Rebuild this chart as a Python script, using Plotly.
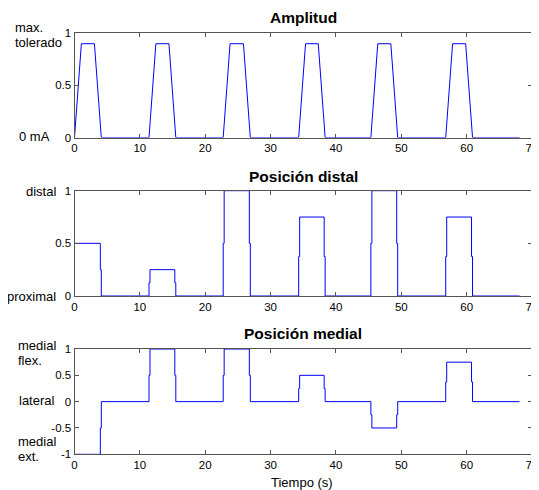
import plotly.graph_objects as go

# ---- data ----
pulse_start = [0.0, 11.4, 22.75, 34.3, 45.35, 56.8]
pulse_end = [4.1, 15.5, 26.9, 38.35, 49.45, 60.9]
amp_peak = 0.9
amp_ramp = 1.05
distal_levels = [0.5, 0.25, 1.0, 0.75, 1.0, 0.75]
medial_levels = [-1.0, 1.0, 1.0, 0.5, -0.5, 0.75]
t_end = 68.1

x_ticks = [0, 10, 20, 30, 40, 50, 60, 70]
amp_ticks = [0, 0.5, 1]
distal_ticks = [0, 0.5, 1]
medial_ticks = [-1, -0.5, 0, 0.5, 1]

titles = ["Amplitud", "Posición distal", "Posición medial"]
xlabel = "Tiempo (s)"

OFF = 8  # page body margin
W, H = 539 - OFF, 490 - OFF
FONT = "Liberation Sans, Arial, sans-serif"
BLUE = "#0000ff"
AX = "#555555"


def px(p):
    return (p - OFF) / W


def py(p):
    return 1 - (p - OFF) / H


# amplitude trace
amp_t, amp_v = [], []
for s, e in zip(pulse_start, pulse_end):
    amp_t += [s, s + amp_ramp, e - amp_ramp, e]
    amp_v += [0, amp_peak, amp_peak, 0]
amp_t.append(t_end)
amp_v.append(0)


def steps(levels, dt=0.15):
    t, v = [], []
    for s, e, lv in zip(pulse_start, pulse_end, levels):
        if s == 0:
            t.append(0.0)
            v.append(lv)
        else:
            t += [s, s + dt]
            v += [lv / 2, lv]
        t += [e - dt, e]
        v += [lv / 2, 0]
    t.append(t_end)
    v.append(0)
    return t, v


dis_t, dis_v = steps(distal_levels)
med_t, med_v = steps(medial_levels)

fig = go.Figure()
fig.add_trace(go.Scatter(x=amp_t, y=amp_v, mode="lines", line=dict(color=BLUE, width=1),
                         xaxis="x", yaxis="y", showlegend=False))
fig.add_trace(go.Scatter(x=dis_t, y=dis_v, mode="lines", line=dict(color=BLUE, width=1, shape="hv"),
                         xaxis="x2", yaxis="y2", showlegend=False))
fig.add_trace(go.Scatter(x=med_t, y=med_v, mode="lines", line=dict(color=BLUE, width=1, shape="hv"),
                         xaxis="x3", yaxis="y3", showlegend=False))

xdom = [px(74.5), px(532)]
ydoms = [[py(137.5), py(33.3)], [py(296), py(190.7)], [py(454.3), py(349)]]
yranges = [[0, 1], [0, 1], [-1, 1]]
yticks = [amp_ticks, distal_ticks, medial_ticks]

common = dict(showline=True, linecolor=AX, linewidth=1, mirror="ticks", ticks="inside",
              ticklen=4, tickcolor=AX, showgrid=False, zeroline=False, automargin=False,
              ticklabeloverflow="allow",
              tickfont=dict(family=FONT, size=11.5, color="black"))

layout = dict(width=W, height=H, margin=dict(l=0, r=0, t=0, b=0, pad=0, autoexpand=False),
              plot_bgcolor="white", paper_bgcolor="white", showlegend=False)
for i in range(3):
    sx = "" if i == 0 else str(i + 1)
    layout["xaxis" + sx] = dict(domain=xdom, range=[0, 70], tickvals=x_ticks,
                                anchor="y" + sx, **common)
    layout["yaxis" + sx] = dict(domain=ydoms[i], range=yranges[i], tickvals=yticks[i],
                                ticktext=[("%g" % v) for v in yticks[i]],
                                anchor="x" + sx, **common)
fig.update_layout(**layout)

ann = []
title_y = [17.5, 176, 333]
for t, yy in zip(titles, title_y):
    ann.append(dict(text="<b>%s</b>" % t, x=px(303.3), y=py(yy), xref="paper", yref="paper",
                    showarrow=False, xanchor="center", yanchor="middle",
                    font=dict(family=FONT, size=15.5, color="black")))
ann.append(dict(text=xlabel, x=px(302), y=py(482), xref="paper", yref="paper",
                showarrow=False, xanchor="center", yanchor="middle",
                font=dict(family=FONT, size=13, color="black")))

labels = [
    ("max.", 13, 28, "left"),
    ("tolerado", 13, 43, "left"),
    ("0 mA", 52, 137, "right"),
    ("distal", 58, 191, "right"),
    ("proximal", 58, 296, "right"),
    ("medial", 16, 345, "left"),
    ("flex.", 16, 360.5, "left"),
    ("lateral", 17, 400, "left"),
    ("medial", 16, 441.5, "left"),
    ("ext.", 16, 456.5, "left"),
]
for txt, xx, yy, anc in labels:
    ann.append(dict(text=txt, x=px(xx), y=py(yy), xref="paper", yref="paper",
                    showarrow=False, xanchor=anc, yanchor="middle",
                    font=dict(family=FONT, size=13, color="black")))
fig.update_layout(annotations=ann)

fig.write_html("out.html",
               post_script="document.documentElement.style.overflow='hidden';")
